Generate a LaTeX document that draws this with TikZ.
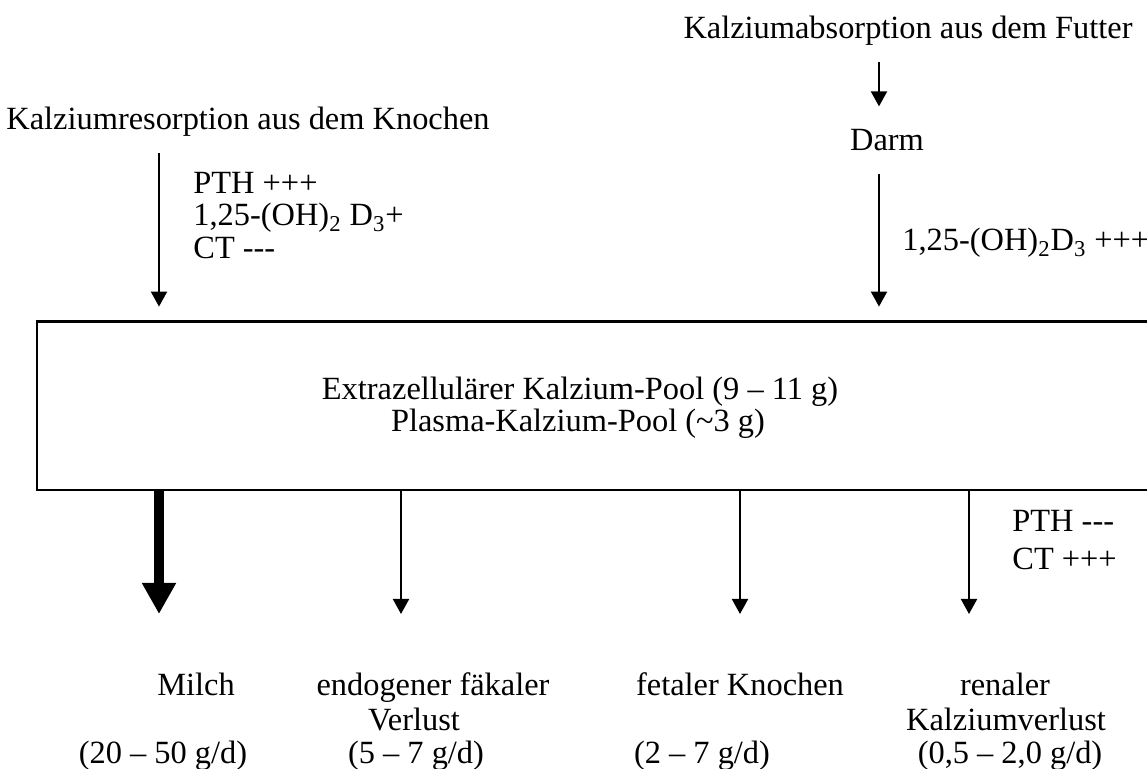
\documentclass[tikz,border=0pt]{standalone}
\usepackage{fontspec}
\setmainfont{Liberation Serif}
\usetikzlibrary{arrows.meta}
\newcommand{\sbt}[1]{\textsubscript{#1}}
\begin{document}
\begin{tikzpicture}[x=0.5pt,y=-0.5pt,
  lbl/.style={font=\fontsize{16.2}{19}\selectfont, inner sep=0pt},
  arr/.style={line width=1pt, -{Triangle[width=8pt,length=7.5pt]}},
  bigarr/.style={line width=5pt, -{Triangle[width=16pt,length=15.5pt]}},
  boxline/.style={line width=1.1pt},
]
\useasboundingbox (0,0) rectangle (1147,769);

% x positions of the arrows
\coordinate (xa) at (879,0);
\coordinate (xb) at (159,0);

% sources
\node[lbl, anchor=base] (futter) at (908,39) {Kalziumabsorption aus dem Futter};
\node[lbl, anchor=base] (darm) at (887,151) {Darm};
\node[lbl, anchor=base] (knochen) at (248,130) {Kalziumresorption aus dem Knochen};

% regulators
\node[lbl, anchor=base west] (pth1) at (193,194) {PTH +++};
\node[lbl, anchor=base west] (vitd1) at (193,226) {1,25-(OH)\sbt{2} D\sbt{3}+};
\node[lbl, anchor=base west] (ct1) at (193,259) {CT -{}-{}-};
\node[lbl, anchor=base west] (vitd2) at (902,251) {1,25-(OH)\sbt{2}D\sbt{3} +++};
\node[lbl, anchor=base west] (pth2) at (1012,532) {PTH -{}-{}-};
\node[lbl, anchor=base west] (ct2) at (1012,570) {CT +++};

% pool box (open to the right)
\node[minimum width=560pt, minimum height=84pt, inner sep=0pt] (pool) at (597,406) {};
\draw[boxline] (pool.north east) -- (pool.north west) -- (pool.south west) -- (pool.south east);
\node[lbl, anchor=base] (pool1) at (580,400) {Extrazellulärer Kalzium-Pool (9 – 11 g)};
\node[lbl, anchor=base] (pool2) at (578,432) {Plasma-Kalzium-Pool (\textasciitilde 3 g)};

% destinations
\node[lbl, anchor=base] (milch) at (196,696) {Milch};
\node[lbl, anchor=base] (milchv) at (163,764) {(20 – 50 g/d)};
\node[lbl, anchor=base] (faek1) at (433,696) {endogener fäkaler};
\node[lbl, anchor=base] (faek2) at (414,731) {Verlust};
\node[lbl, anchor=base] (faekv) at (416,764) {(5 – 7 g/d)};
\node[lbl, anchor=base] (fetal) at (740,696) {fetaler Knochen};
\node[lbl, anchor=base] (fetalv) at (702,764) {(2 – 7 g/d)};
\node[lbl, anchor=base] (ren1) at (1005,696) {renaler};
\node[lbl, anchor=base] (ren2) at (1006,731) {Kalziumverlust};
\node[lbl, anchor=base] (renv) at (1010,764) {(0,5 – 2,0 g/d)};

% arrow ends
\coordinate (e1) at (159,614);
\coordinate (e2) at (401,614);
\coordinate (e3) at (740,614);
\coordinate (e4) at (969,614);

% incoming arrows
\draw[arr, shorten <=8pt, shorten >=11.5pt] (futter.south -| xa) -- (darm.north -| xa);
\draw[arr, shorten <=8pt, shorten >=7.5pt] (knochen.south -| xb) -- (pool.north -| xb);
\draw[arr, shorten <=11pt, shorten >=7.5pt] (darm.south -| xa) -- (pool.north -| xa);

% outgoing arrows
\draw[bigarr] (pool.south -| e1) -- (e1);
\draw[arr] (pool.south -| e2) -- (e2);
\draw[arr] (pool.south -| e3) -- (e3);
\draw[arr] (pool.south -| e4) -- (e4);
\end{tikzpicture}
\end{document}
